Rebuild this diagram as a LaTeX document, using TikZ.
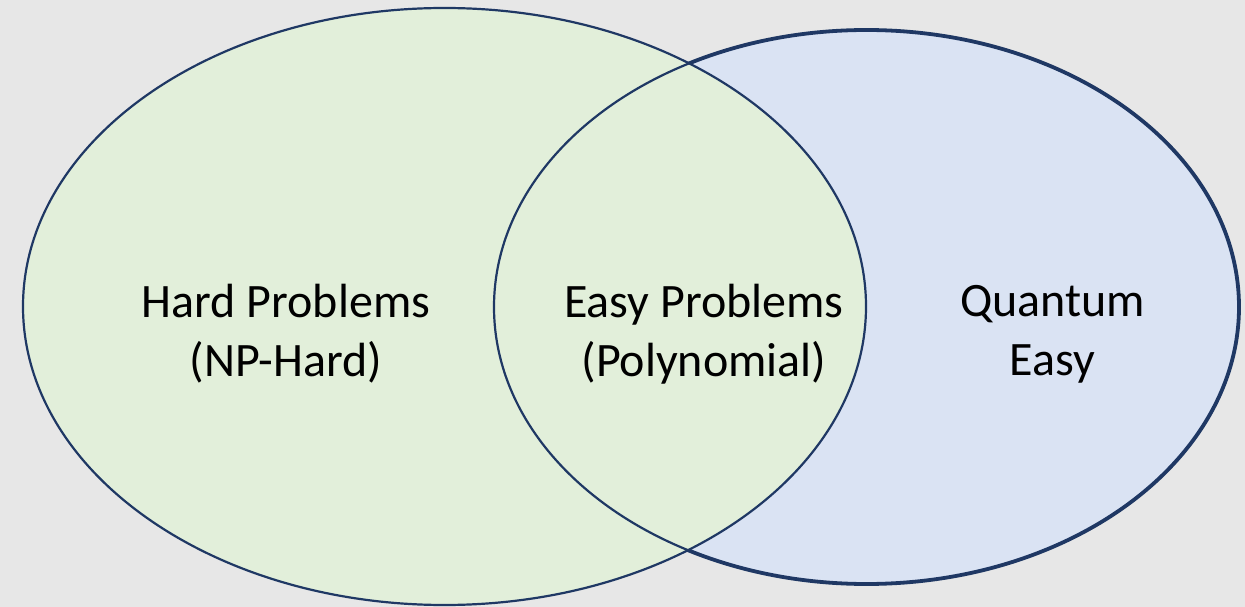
\documentclass[tikz,border=0pt]{standalone}
\usepackage{fontspec}
\setmainfont{Carlito}
\definecolor{bgc}{HTML}{E7E7E7}
\definecolor{greenf}{HTML}{E2EFDA}
\definecolor{bluef}{HTML}{DAE3F3}
\definecolor{navy}{HTML}{1F3864}
\begin{document}
\begin{tikzpicture}[x=1bp,y=-1bp,
  lbl/.style={align=center,font=\fontsize{48bp}{59bp}\selectfont,text=black,inner sep=0pt}]
\useasboundingbox (0,0) rectangle (1245,607);
\fill[bgc] (0,0) rectangle (1245,607);
% right ellipse (quantum)
\path[fill=bluef,draw=navy,line width=3.8bp] (866.5,307) ellipse [x radius=372.5, y radius=277];
% left ellipse (hard)
\path[fill=greenf,draw=navy,line width=2.2bp] (444.5,306.5) ellipse [x radius=421.5, y radius=298.5];
% right ellipse outline over left fill
\draw[navy,line width=2.2bp] (866.5,307) ellipse [x radius=372.5, y radius=277];
\node[lbl] (hard) at (286,334) {Hard Problems\\(NP-Hard)};
\node[lbl] (easy) at (704,334) {Easy Problems\\(Polynomial)};
\node[lbl] (quant) at (1052.5,334) {Quantum\\Easy};
\end{tikzpicture}
\end{document}
